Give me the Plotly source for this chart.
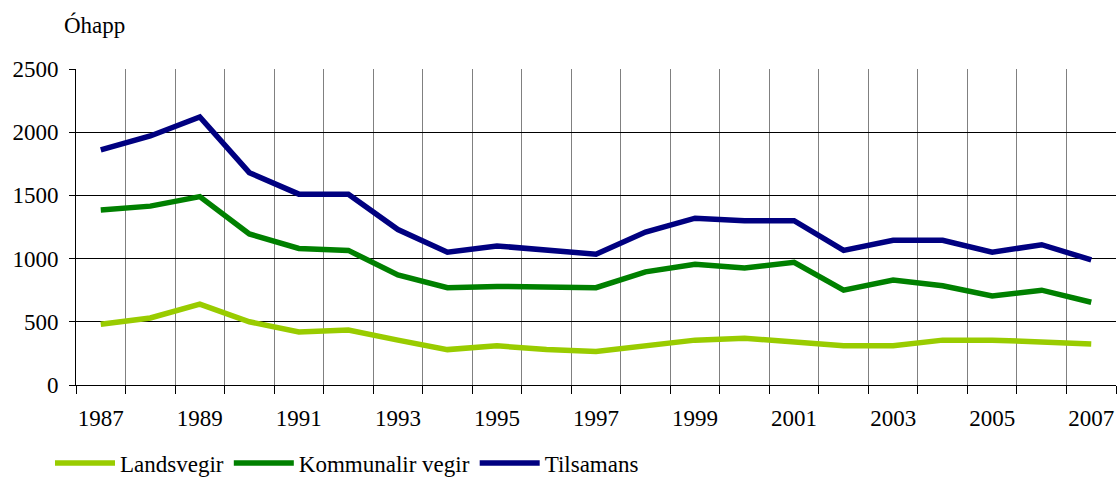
import plotly.graph_objects as go

years = list(range(1987, 2008))
landsvegir = [480, 530, 640, 500, 420, 435, 355, 280, 310, 280, 265, 310, 355, 370, 340, 310, 310, 355, 355, 340, 325]
kommunalir = [1385, 1415, 1490, 1195, 1080, 1065, 870, 770, 780, 780, 770, 895, 955, 925, 970, 750, 830, 785, 705, 750, 655]
tilsamans = [1860, 1970, 2120, 1680, 1510, 1510, 1230, 1050, 1100, 1068, 1035, 1210, 1320, 1300, 1300, 1065, 1145, 1145, 1050, 1110, 990]
tick_years = list(range(1987, 2008, 2))

names = ["Landsvegir", "Kommunalir vegir", "Tilsamans"]
colors = ["#99CC00", "#008000", "#000080"]
series = [landsvegir, kommunalir, tilsamans]

fig = go.Figure()
for n, c, s in zip(names, colors, series):
    fig.add_trace(go.Scatter(x=years, y=s, name=n, mode="lines",
                             line=dict(color=c, width=5.5)))

font = dict(family="Liberation Serif, Times New Roman, serif", size=23, color="black")

L, R, T, B = 76, 1, 69, 95
W, H = 1117, 480
pw, ph = W - L - R, H - T - B

fig.update_layout(
    width=W, height=H,
    margin=dict(l=L, r=R, t=T, b=B, autoexpand=False),
    paper_bgcolor="white", plot_bgcolor="white",
    font=font,
    showlegend=True,
    legend=dict(orientation="h", x=(50 - L) / pw, y=(H - B - 463) / ph,
                xanchor="left", yanchor="middle",
                font=font, itemwidth=60, tracegroupgap=0),
    xaxis=dict(range=[1986.5, 2007.5], tickmode="array", tickvals=tick_years,
               ticktext=[str(y) for y in tick_years], ticks="", showgrid=False,
               showline=True, linecolor="black", linewidth=1, zeroline=False,
               ticklabelstandoff=12, automargin=False,
               minor=dict(tickmode="linear", tick0=1986.5, dtick=1, showgrid=True,
                          gridcolor="#808080", gridwidth=1, ticks="outside",
                          ticklen=8, tickcolor="black")),
    yaxis=dict(range=[0, 2500], tickvals=[0, 500, 1000, 1500, 2000, 2500],
               showgrid=True, gridcolor="black", gridwidth=1,
               showline=True, linecolor="black", linewidth=1, zeroline=False,
               ticks="outside", ticklen=6, tickcolor="black",
               ticklabelstandoff=6, automargin=False),
    annotations=[dict(text="Óhapp", x=(62 - L) / pw, y=(H - B - 25) / ph,
                      xref="paper", yref="paper", xanchor="left", yanchor="middle",
                      showarrow=False, font=font)],
)

fig.write_html("out.html", config={"displayModeBar": False},
               post_script="document.body.style.margin='0';document.body.style.overflow='hidden';")
